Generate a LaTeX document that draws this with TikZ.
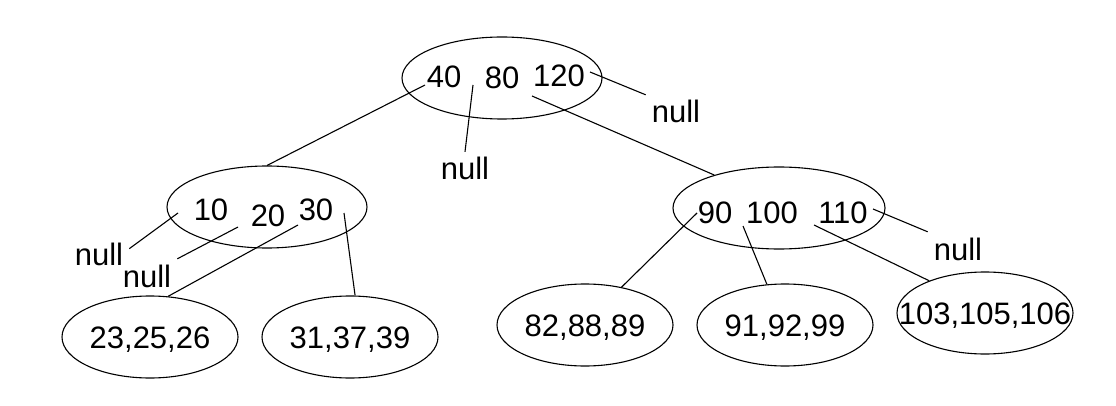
\documentclass[tikz,border=0pt]{standalone}
\usepackage{fontspec}
\setmainfont{Liberation Sans}
\usetikzlibrary{shapes.geometric}
\begin{document}
\begin{tikzpicture}[x=1pt,y=-1pt]
\newcommand{\xspace}{1}
\newcommand{\yspace}{1}
\tikzstyle{every node}=[font=\fontsize{31}{36}\selectfont,text height=22pt,text depth=0pt]
\tikzstyle{inner}=[draw,ellipse,line width=1.1pt,minimum width=200pt,minimum height=82pt,inner sep=0pt]
\tikzstyle{wide}=[inner,minimum width=212pt]
\tikzstyle{leaf}=[inner,minimum width=176pt]
\tikzstyle{key}=[inner sep=0pt]
\tikzstyle{nil}=[inner sep=6pt]
\tikzstyle{edge}=[line width=1.1pt]
\useasboundingbox (0,0) rectangle (1116,406);
% root
\node[inner] (root) at (\xspace*502,\yspace*78) {};
\node[key] (r40) at (\xspace*444,\yspace*77) {40};
\node[key] (r80) at (\xspace*502,\yspace*78) {80};
\node[key] (r120) at (\xspace*559,\yspace*76) {120};
\coordinate (p0) at (\xspace*425,\yspace*85);
\coordinate (p1) at (\xspace*473,\yspace*85);
\coordinate (p2) at (\xspace*532,\yspace*96);
\coordinate (p3) at (\xspace*590,\yspace*72);
% left child
\node[inner] (left) at (\xspace*267,\yspace*207) {};
\node[key] (l10) at (\xspace*211,\yspace*210) {10};
\node[key] (l20) at (\xspace*268,\yspace*215) {20};
\node[key] (l30) at (\xspace*316,\yspace*210) {30};
\coordinate (lp0) at (\xspace*178,\yspace*213);
\coordinate (lp1) at (\xspace*238,\yspace*227);
\coordinate (lp2) at (\xspace*298,\yspace*225);
\coordinate (lp3) at (\xspace*344,\yspace*213);
% right child
\node[wide] (right) at (\xspace*779,\yspace*208) {};
\node[key] (r90) at (\xspace*715,\yspace*213) {90};
\node[key] (r100) at (\xspace*772,\yspace*213) {100};
\node[key] (r110) at (\xspace*843,\yspace*213) {110};
\coordinate (rp0) at (\xspace*697,\yspace*213);
\coordinate (rp1) at (\xspace*743,\yspace*226);
\coordinate (rp2) at (\xspace*814,\yspace*225);
\coordinate (rp3) at (\xspace*873,\yspace*209);
% leaves
\node[leaf] (la) at (\xspace*150,\yspace*337) {\makebox[0pt]{23,25,26}};
\node[leaf] (lb) at (\xspace*350,\yspace*337) {\makebox[0pt]{31,37,39}};
\node[leaf] (lc) at (\xspace*585,\yspace*325) {\makebox[0pt]{82,88,89}};
\node[leaf] (ld) at (\xspace*785,\yspace*325) {\makebox[0pt]{91,92,99}};
\node[leaf] (le) at (\xspace*985,\yspace*313) {\makebox[0pt]{103,105,106}};
% null pointers
\node[nil] (n1) at (\xspace*465,\yspace*169) {null};
\node[nil] (n2) at (\xspace*676,\yspace*112) {null};
\node[nil] (n3) at (\xspace*99,\yspace*254) {null};
\node[nil] (n4) at (\xspace*147,\yspace*276) {null};
\node[nil] (n5) at (\xspace*958,\yspace*249) {null};
\draw[edge] (p0) edge (left.north);
\draw[edge] (p1) edge (n1.north);
\draw[edge] (p2) edge (right.153);
\draw[edge] (p3) edge (n2.north west);
\draw[edge] (lp0) edge (n3.10);
\draw[edge] (lp1) edge (n4.north east);
\draw[edge] (lp2) edge (la.66);
\draw[edge] (lp3) edge (lb.83);
\draw[edge] (rp0) edge (lc.46);
\draw[edge] (rp1) edge (ld.114);
\draw[edge] (rp2) edge (le.150);
\draw[edge] (rp3) edge (n5.north west);
\end{tikzpicture}
\end{document}
